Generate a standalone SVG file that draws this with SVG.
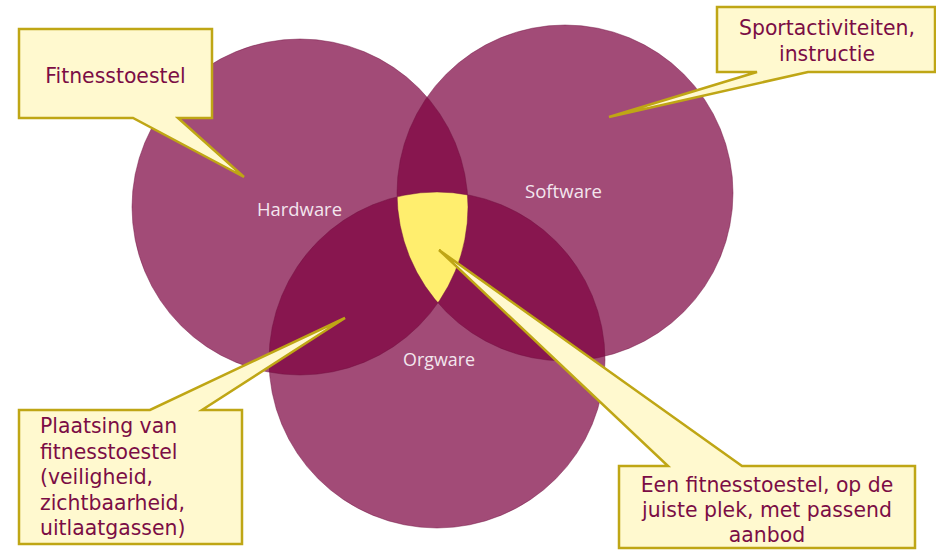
<svg xmlns="http://www.w3.org/2000/svg" width="936" height="550" viewBox="0 0 936 550">
  <style>
    .circ { fill: #A24B77; }
    .dbl { fill: #88164F; }
    .tri { fill: #FFEE6E; }
    .edge { fill: none; stroke: #6E0F3F; stroke-width: 1; stroke-opacity: 0.45; }
    .lbl { font-family: "Open Sans", "Liberation Sans", sans-serif; font-size: 18px; fill: #F3E6EE; text-anchor: middle; }
    .callout { fill: #FFF9CF; stroke: #BFA615; stroke-width: 2.5; stroke-linejoin: miter; }
    .ct { font-family: "DejaVu Sans", "Liberation Sans", sans-serif; font-size: 20.4px; fill: #7B0D45; }
    .mid { text-anchor: middle; }
  </style>
  <defs>
    <clipPath id="cH"><circle cx="300" cy="207" r="168"/></clipPath>
    <clipPath id="cS"><circle cx="565" cy="193" r="168"/></clipPath>
    <clipPath id="cO"><circle cx="437" cy="360" r="168"/></clipPath>
  </defs>

  <g id="venn">
    <g id="hardware">
      <circle class="circ" cx="300" cy="207" r="168"/>
    </g>
    <g id="software">
      <circle class="circ" cx="565" cy="193" r="168"/>
    </g>
    <g id="orgware">
      <circle class="circ" cx="437" cy="360" r="168"/>
    </g>
    <g id="overlaps">
      <g clip-path="url(#cH)"><circle class="dbl" cx="565" cy="193" r="168"/></g>
      <g clip-path="url(#cH)"><circle class="dbl" cx="437" cy="360" r="168"/></g>
      <g clip-path="url(#cS)"><circle class="dbl" cx="437" cy="360" r="168"/></g>
      <g clip-path="url(#cH)"><g clip-path="url(#cS)"><circle class="tri" cx="437" cy="360" r="168"/></g></g>
    </g>
    <g id="edges">
      <circle class="edge" cx="300" cy="207" r="168"/>
      <circle class="edge" cx="565" cy="193" r="168"/>
      <circle class="edge" cx="437" cy="360" r="168"/>
    </g>
    <text class="lbl" x="299.5" y="215.5" textLength="85" lengthAdjust="spacingAndGlyphs">Hardware</text>
    <text class="lbl" x="563.5" y="197.5" textLength="77" lengthAdjust="spacingAndGlyphs">Software</text>
    <text class="lbl" x="439" y="365.5" textLength="72" lengthAdjust="spacingAndGlyphs">Orgware</text>
  </g>

  <g id="callout-fitnesstoestel">
    <path class="callout" d="M19,29 H212 V118 H178 L244,177 L133,118 H19 Z"/>
    <text class="ct mid" x="115.5" y="83">Fitnesstoestel</text>
  </g>

  <g id="callout-sport">
    <path class="callout" d="M717,7 H935 V72 H808 L609,117 L757,72 H717 Z"/>
    <text class="ct mid" x="827" y="35">Sportactiviteiten,</text>
    <text class="ct mid" x="827" y="61">instructie</text>
  </g>

  <g id="callout-plaatsing">
    <path class="callout" d="M19,410 H150 L345,318 L202,410 H242 V544 H19 Z"/>
    <text class="ct" x="40" y="433">Plaatsing van</text>
    <text class="ct" x="40" y="458.5">fitnesstoestel</text>
    <text class="ct" x="40" y="484">(veiligheid,</text>
    <text class="ct" x="40" y="509.5">zichtbaarheid,</text>
    <text class="ct" x="40" y="535">uitlaatgassen)</text>
  </g>

  <g id="callout-combinatie">
    <path class="callout" d="M619,466 H668 L439,250 L742,466 H915 V548 H619 Z"/>
    <text class="ct mid" x="767" y="492">Een fitnesstoestel, op de</text>
    <text class="ct mid" x="767" y="517">juiste plek, met passend</text>
    <text class="ct mid" x="767" y="542">aanbod</text>
  </g>

  <g id="connectors"></g>
</svg>
